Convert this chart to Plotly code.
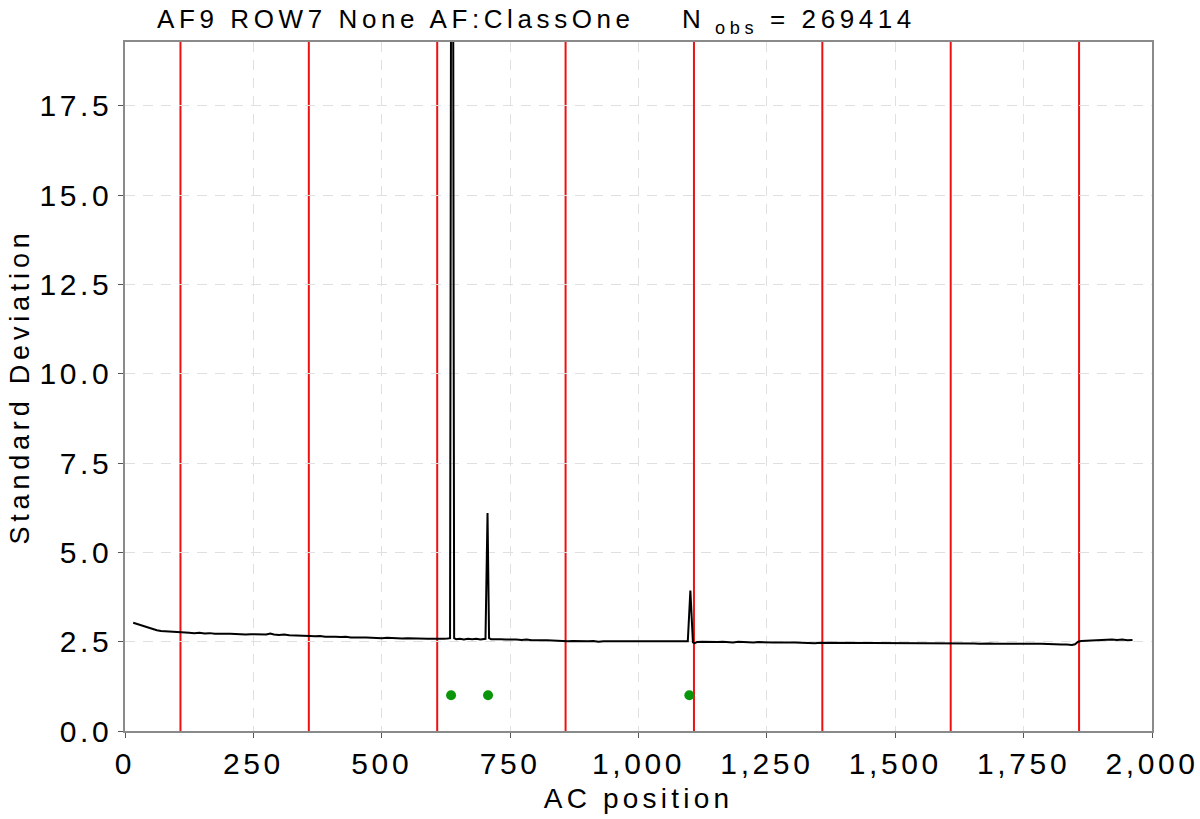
import plotly.graph_objects as go

# ---- data ----
ac_pos = [
    16, 22, 30, 38, 46, 54, 62, 70, 78, 86,
    95, 105, 115, 125, 135, 145, 155, 165, 175, 185,
    195, 205, 215, 225, 235, 245, 255, 265, 275, 283,
    290, 300, 310, 320, 330, 340, 350, 360, 370, 380,
    390, 400, 410, 420, 430, 440, 450, 460, 470, 480,
    490, 500, 510, 520, 530, 540, 550, 560, 570, 580,
    590, 600, 610, 620, 628, 633, 637, 641, 645, 652,
    660, 668, 676, 684, 692, 699, 702, 706, 709, 713,
    722, 732, 742, 752, 762, 772, 782, 792, 802, 812,
    822, 832, 842, 852, 862, 872, 882, 892, 902, 912,
    922, 932, 942, 952, 962, 972, 982, 992, 1002, 1012,
    1022, 1032, 1042, 1052, 1062, 1072, 1082, 1092, 1096, 1101,
    1106, 1109, 1114, 1124, 1134, 1144, 1154, 1164, 1174, 1184,
    1194, 1204, 1214, 1224, 1234, 1244, 1254, 1264, 1274, 1284,
    1294, 1304, 1314, 1324, 1334, 1344, 1354, 1364, 1374, 1384,
    1394, 1404, 1414, 1424, 1434, 1444, 1454, 1464, 1474, 1484,
    1494, 1504, 1514, 1524, 1534, 1544, 1554, 1564, 1574, 1584,
    1594, 1604, 1614, 1624, 1634, 1644, 1654, 1664, 1674, 1684,
    1694, 1704, 1714, 1724, 1734, 1744, 1754, 1764, 1774, 1784,
    1794, 1804, 1814, 1824, 1834, 1844, 1850, 1856, 1862, 1872,
    1882, 1892, 1902, 1912, 1922, 1932, 1942, 1952, 1962,
]
std_dev = [
    3.03, 3.00, 2.96, 2.92, 2.88, 2.85, 2.82, 2.80, 2.79, 2.78,
    2.78, 2.76, 2.76, 2.75, 2.74, 2.75, 2.73, 2.74, 2.72, 2.73,
    2.72, 2.72, 2.71, 2.72, 2.70, 2.71, 2.70, 2.71, 2.70, 2.73,
    2.70, 2.69, 2.70, 2.68, 2.68, 2.67, 2.66, 2.66, 2.65, 2.66,
    2.64, 2.65, 2.64, 2.63, 2.64, 2.62, 2.63, 2.62, 2.62, 2.61,
    2.62, 2.60, 2.61, 2.60, 2.60, 2.59, 2.60, 2.59, 2.58, 2.59,
    2.58, 2.58, 2.57, 2.58, 2.59, 2.60, 40.0, 2.60, 2.57, 2.58,
    2.56, 2.58, 2.57, 2.58, 2.56, 2.57, 2.58, 6.10, 2.60, 2.57,
    2.58, 2.57, 2.56, 2.57, 2.56, 2.55, 2.56, 2.54, 2.55, 2.54,
    2.54, 2.53, 2.52, 2.53, 2.51, 2.52, 2.51, 2.52, 2.51, 2.52,
    2.50, 2.51, 2.51, 2.50, 2.51, 2.50, 2.51, 2.50, 2.52, 2.51,
    2.50, 2.51, 2.50, 2.51, 2.50, 2.50, 2.51, 2.50, 2.51, 3.93,
    2.48, 2.46, 2.49, 2.50, 2.49, 2.50, 2.49, 2.50, 2.49, 2.48,
    2.50, 2.49, 2.49, 2.48, 2.49, 2.48, 2.49, 2.48, 2.48, 2.47,
    2.48, 2.48, 2.47, 2.48, 2.47, 2.46, 2.47, 2.47, 2.46, 2.47,
    2.46, 2.47, 2.46, 2.46, 2.47, 2.45, 2.46, 2.46, 2.45, 2.46,
    2.46, 2.45, 2.46, 2.45, 2.46, 2.45, 2.45, 2.46, 2.45, 2.46,
    2.45, 2.46, 2.45, 2.45, 2.46, 2.45, 2.45, 2.44, 2.45, 2.45,
    2.44, 2.45, 2.44, 2.44, 2.45, 2.44, 2.44, 2.43, 2.44, 2.44,
    2.43, 2.44, 2.43, 2.42, 2.42, 2.41, 2.43, 2.50, 2.52, 2.53,
    2.52, 2.54, 2.55, 2.57, 2.56, 2.55, 2.56, 2.54, 2.55,
]
assert len(ac_pos) == len(std_dev)

red_lines_x = [108, 358, 608, 858, 1108, 1358, 1608, 1858]

flag_x = [635, 707, 1099]
flag_y = [1.0, 1.0, 1.0]

x_ticks = [0, 250, 500, 750, 1000, 1250, 1500, 1750, 2000]
y_ticks = [0.0, 2.5, 5.0, 7.5, 10.0, 12.5, 15.0, 17.5]

title_text = "AF9 ROW7 None AF:ClassOne    N<sub> obs</sub> = 269414"
x_title = "AC position"
y_title = "Standard Deviation"

FONT = "Liberation Sans"

fig = go.Figure()

for rx in red_lines_x:
    fig.add_vline(x=rx, line=dict(color="#ee1111", width=2), layer="below")

fig.add_trace(go.Scatter(x=ac_pos, y=std_dev, mode="lines",
                         line=dict(color="black", width=2), showlegend=False))
fig.add_trace(go.Scatter(x=flag_x, y=flag_y, mode="markers",
                         marker=dict(color="#0a960a", size=10), showlegend=False))

axis_common = dict(
    showline=True, mirror=True, linecolor="#8a8a8a", linewidth=1.5,
    showgrid=True, gridcolor="#e0e0e0", griddash="10px,8px", gridwidth=1,
    ticks="outside", ticklen=5, tickcolor="#555555", tickwidth=1,
    zeroline=False, automargin=False,
    tickfont=dict(family=FONT, size=30, color="black"),
)

fig.update_xaxes(range=[0, 2000], tickvals=x_ticks,
                 ticktext=[f"{v:,}" for v in x_ticks],
                 title=dict(text=x_title, font=dict(family=FONT, size=28, color="black"),
                            standoff=10),
                 **axis_common)
fig.update_yaxes(range=[0, 19.29], tickvals=y_ticks,
                 ticktext=[f"{v:.1f}" for v in y_ticks],
                 title=dict(text=y_title, font=dict(family=FONT, size=27, color="black"),
                            standoff=16),
                 **axis_common)

fig.update_layout(
    width=1200, height=819,
    margin=dict(l=125, r=48, t=42, b=88),
    paper_bgcolor="white", plot_bgcolor="white",
    hovermode=False,
    title=dict(text=title_text, font=dict(family=FONT, size=26, color="black"),
               xref="container", x=157 / 1200, xanchor="left",
               yref="container", y=1 - 19 / 819, yanchor="middle"),
)

# page without body margin, and wider letter tracking as in the reference rendering
css = ("body{margin:0}"
       " .gtitle{letter-spacing:4.6px}"
       " .xtitle{letter-spacing:4.2px}"
       " .ytitle{letter-spacing:4.8px}"
       " .xtick text,.ytick text{letter-spacing:3.6px}")
post = ("var st=document.createElement('style');st.textContent='" + css +
        "';document.head.appendChild(st);")

fig.write_html("out.html", post_script=post, config={"displayModeBar": False})
